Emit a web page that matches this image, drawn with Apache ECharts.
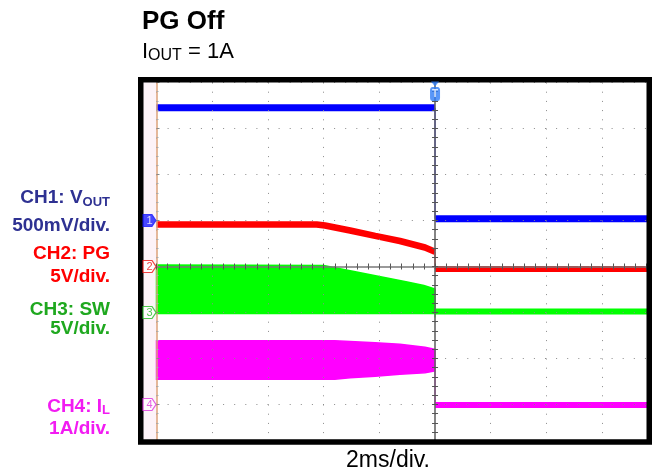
<!DOCTYPE html>
<html><head><meta charset="utf-8">
<script src="https://cdn.jsdelivr.net/npm/echarts@6/dist/echarts.min.js"></script>
<style>html,body{margin:0;padding:0;background:#fff}#c{width:653px;height:470px}</style>
</head><body><div id="c"></div>
<script>
// Horizontal: time in ms (2 ms/div), trigger at 0. Vertical: screen divisions.
const timeRange = [-10, 7.61];
const timeStep = 2;
const divRange = [-4, 4];
const divStep = 1;

// CH1 VOUT (blue)
const ch1Pre = [[-10, 3.45], [0, 3.45]];
const ch1Post = [[0, 1.04], [7.61, 1.04]];
const ch1Edge = [[0, 3.45], [0, 1.04]];

// CH2 PG (red)
const ch2Pre = [[-10, 0.913], [-4.25, 0.913], [-3.95, 0.891], [-3.05, 0.783], [-2.15, 0.667], [-1.26, 0.554], [-0.36, 0.413], [0, 0.322]];
const ch2Post = [[0, -0.054], [7.61, -0.054]];
const ch2Edge = [[0, 0.322], [0, -0.054]];

// CH3 SW (green) switching envelope
const ch3Time = [-10, -4.0, -3.0, -2.0, -1.0, -0.4, 0];
const ch3Top = [0.03, 0.02, -0.098, -0.217, -0.337, -0.413, -0.489];
const ch3Bottom = [-1.02, -1.02, -1.02, -1.02, -1.02, -1.02, -1.02];
const ch3Post = [[0, -0.978], [7.61, -0.978]];
const ch3Edge = [[0, -0.489], [0, -1.11]];

// CH4 IL (magenta) ripple envelope
const ch4Time = [-10, -3.6, -3.05, -2.15, -1.26, -0.36, 0];
const ch4Top = [-1.613, -1.615, -1.63, -1.655, -1.69, -1.757, -1.80];
const ch4Bottom = [-2.45, -2.45, -2.42, -2.385, -2.345, -2.31, -2.27];
const ch4Post = [[0, -3.01], [7.61, -3.01]];
const ch4Edge = [[0, -2.27], [0, -3.01]];

// channel ground markers
const markerLabels = ['1', '2', '3', '4'];
const markerLevels = [1, 0, -1, -3];
const markerColors = ['#1a1aff', '#ee1111', '#22bb22', '#dd33dd'];

const FONT = '"Liberation Sans", Arial, Helvetica, sans-serif';
const C_BLUE = '#0000ff', C_RED = '#ff0000', C_GREEN = '#00ff00', C_MAG = '#ff00ff';

const chart = echarts.init(document.getElementById('c'), null, {renderer: 'canvas'});

function lineS(data, color, width, z) {
  return {type: 'line', data: data, symbol: 'none', showSymbol: false, silent: true,
    lineStyle: {color: color, width: width, cap: 'butt'}, itemStyle: {color: color}, z: z || 3};
}
function bandS(times, top, bottom, color) {
  return {type: 'custom', coordinateSystem: 'cartesian2d', silent: true, z: 2,
    encode: {x: 0, y: [1, 2]},
    data: times.map((t, i) => [t, top[i], bottom[i]]),
    renderItem: function (params, api) {
      if (params.dataIndex !== 0) return null;
      const pts = [];
      for (let i = 0; i < times.length; i++) pts.push(api.coord([times[i], top[i]]));
      for (let i = times.length - 1; i >= 0; i--) pts.push(api.coord([times[i], bottom[i]]));
      return {type: 'polygon', shape: {points: pts}, style: {fill: color, stroke: color, lineWidth: 1.5}};
    }};
}
function label(txt, x, y, color) {
  return {type: 'text', z: 100, style: {text: txt, x: x, y: y, align: 'right', verticalAlign: 'middle',
    font: 'bold 19px ' + FONT, fill: color}};
}
function subLabel(main, sub, x, y, color) {
  return {type: 'text', z: 100, style: {text: '{a|' + main + '}{s|' + sub + '}', x: x, y: y, align: 'right', verticalAlign: 'middle',
    rich: {a: {fontSize: 19, fontWeight: 'bold', fontFamily: FONT, fill: color, lineHeight: 21},
           s: {fontSize: 13, fontWeight: 'bold', fontFamily: FONT, fill: color, lineHeight: 13, verticalAlign: 'bottom'}}}};
}

const tickStyle = {color: '#555', width: 1};
const xBase = {type: 'value', min: timeRange[0], max: timeRange[1], interval: timeStep,
  axisLabel: {show: false}, z: 10};
const yBase = {type: 'value', min: divRange[0], max: divRange[1], interval: divStep,
  axisLabel: {show: false}, z: 10};

const option = {
  animation: false,
  grid: {left: 156.5, right: 6, top: 82.5, bottom: 19.5, containLabel: false},
  xAxis: [
    Object.assign({}, xBase, {position: 'bottom',
      axisLine: {show: true, onZero: true, onZeroAxisIndex: 0, lineStyle: {color: '#7a7a7a', width: 1.6}},
      axisTick: {show: true, length: 3, lineStyle: tickStyle},
      minorTick: {show: true, splitNumber: 5, length: 3, lineStyle: tickStyle},
      splitLine: {show: true, lineStyle: {color: '#8a8a8a', width: 1, type: [1, 8.2]}}}),
    Object.assign({}, xBase, {position: 'top',
      axisLine: {show: false, onZero: true, onZeroAxisIndex: 0},
      axisTick: {show: true, length: 3, lineStyle: tickStyle},
      minorTick: {show: true, splitNumber: 5, length: 3, lineStyle: tickStyle},
      splitLine: {show: false}})
  ],
  yAxis: [
    Object.assign({}, yBase, {position: 'left',
      axisLine: {show: true, onZero: true, onZeroAxisIndex: 0, lineStyle: {color: '#666', width: 1.6}},
      axisTick: {show: true, length: 3, lineStyle: tickStyle},
      minorTick: {show: true, splitNumber: 5, length: 3, lineStyle: tickStyle},
      splitLine: {show: true, lineStyle: {color: '#8a8a8a', width: 1, type: [1, 10.1]}}}),
    Object.assign({}, yBase, {position: 'right',
      axisLine: {show: false, onZero: true, onZeroAxisIndex: 0},
      axisTick: {show: true, length: 3, lineStyle: tickStyle},
      minorTick: {show: true, splitNumber: 5, length: 3, lineStyle: tickStyle},
      splitLine: {show: false}}),
    Object.assign({}, yBase, {position: 'left',
      axisLine: {show: true, onZero: false, lineStyle: {color: '#dda27a', width: 1.5}},
      axisTick: {show: true, inside: true, length: 3, lineStyle: {color: '#888', width: 1}},
      minorTick: {show: true, splitNumber: 5, length: 2, lineStyle: {color: '#aaa', width: 1}},
      splitLine: {show: false}})
  ],
  graphic: [
    {type: 'rect', z: 1, shape: {x: 143, y: 82, width: 13.5, height: 357}, style: {fill: '#fdf3f8'}},
    {type: 'rect', z: 99, shape: {x: 120, y: 444, width: 540, height: 8}, style: {fill: '#fff'}},
    {type: 'rect', z: 100, shape: {x: 140.75, y: 79.75, width: 508.5, height: 362.25},
      style: {fill: 'none', stroke: '#000', lineWidth: 5.5}},
    {type: 'text', z: 100, style: {text: 'PG Off', x: 142, y: 22, verticalAlign: 'middle',
      font: 'bold 26px ' + FONT, fill: '#000'}},
    {type: 'text', z: 100, style: {text: '{a|I}{s|OUT}{a| = 1A}', x: 142, y: 52, verticalAlign: 'middle',
      rich: {a: {fontSize: 22, fontFamily: FONT, fill: '#000', lineHeight: 24},
             s: {fontSize: 16, fontFamily: FONT, fill: '#000', lineHeight: 20, verticalAlign: 'bottom'}}}},
    {type: 'text', z: 100, style: {text: '2ms/div.', x: 388, y: 460.5, align: 'center', verticalAlign: 'middle',
      font: '23px ' + FONT, fill: '#000'}},
    subLabel('CH1: V', 'OUT', 110, 198, '#2e3192'),
    label('500mV/div.', 110, 226, '#2e3192'),
    label('CH2: PG', 110, 254, '#ff0000'),
    label('5V/div.', 110, 277, '#ff0000'),
    label('CH3: SW', 110, 310, '#1fa81f'),
    label('5V/div.', 110, 328.5, '#1fa81f'),
    subLabel('CH4: I', 'L', 110, 406.5, '#f21bf2'),
    label('1A/div.', 110, 428.5, '#f21bf2')
  ],
  series: [
    bandS(ch3Time, ch3Top, ch3Bottom, C_GREEN),
    bandS(ch4Time, ch4Top, ch4Bottom, C_MAG),
    lineS(ch3Post, C_GREEN, 6),
    lineS(ch3Edge, C_GREEN, 1.2),
    lineS(ch4Post, C_MAG, 6),
    lineS(ch4Edge, C_MAG, 1.2),
    lineS(ch1Pre, C_BLUE, 7),
    lineS(ch1Post, C_BLUE, 7),
    lineS(ch1Edge, C_BLUE, 1.2),
    lineS(ch2Pre, C_RED, 6.5),
    lineS(ch2Post, C_RED, 6),
    lineS(ch2Edge, C_RED, 1.2),
    {type: 'scatter', z: 200, clip: false, silent: true,
      data: markerLabels.map((lab, i) => ({
        value: [timeRange[0], markerLevels[i]],
        symbol: 'path://M0,0 L9,0 L13,6.5 L9,13 L0,13 Z',
        symbolSize: [13, 12], symbolOffset: [-7, 0],
        itemStyle: i === 0 ? {color: markerColors[i], borderColor: markerColors[i], borderWidth: 1}
                           : {color: '#fff', borderColor: markerColors[i], borderWidth: 1.2},
        label: {show: true, position: 'inside', formatter: lab,
          color: i === 0 ? '#fff' : markerColors[i], fontSize: 11, fontFamily: FONT}
      }))},
    {type: 'scatter', z: 200, clip: false, silent: true,
      data: [
        {value: [0, divRange[1]], symbol: 'triangle', symbolRotate: 180, symbolSize: [8, 5], symbolOffset: [0, 1.5],
          itemStyle: {color: '#2f7df6'}},
        {value: [0, divRange[1]], symbol: 'roundRect', symbolSize: [10, 14], symbolOffset: [0, 11.5],
          itemStyle: {color: '#2f7df6'},
          label: {show: true, position: 'inside', formatter: 'T', color: '#fff',
            fontSize: 10, fontWeight: 'bold', fontFamily: FONT}}
      ]}
  ]
};
chart.setOption(option);
</script></body></html>
